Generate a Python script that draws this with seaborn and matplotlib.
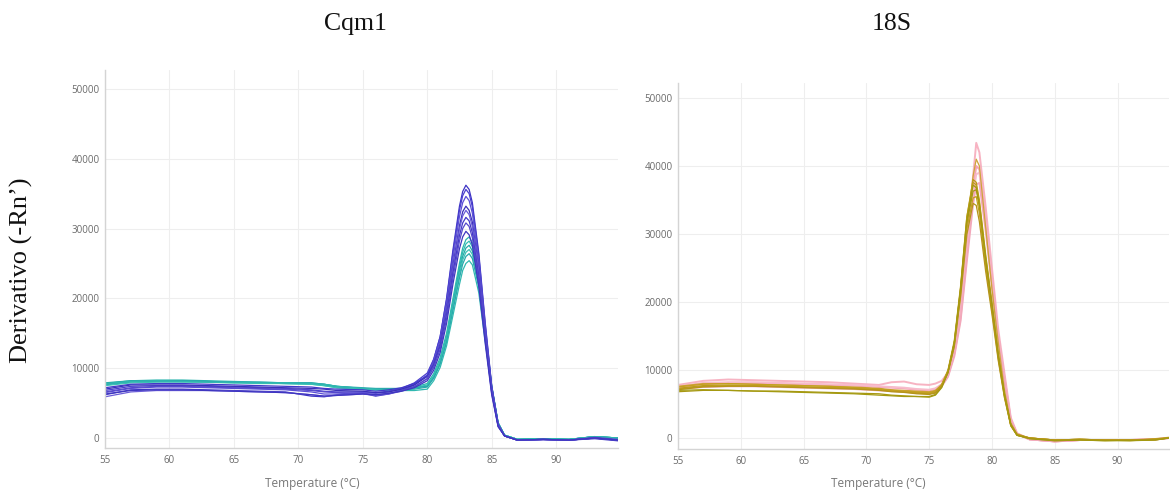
import matplotlib
matplotlib.use("Agg")
import matplotlib.pyplot as plt
import seaborn as sns

# ---------------- data ----------------
# Cqm1 panel
cqm1_temp = [55, 57, 59, 61, 63, 65, 67, 69, 71, 72, 73, 75, 76, 77, 78, 79,
             80, 80.5, 81, 81.5, 82, 82.5, 82.75, 83, 83.25, 83.5, 84, 84.5, 85, 85.5, 86,
             87, 89, 91, 93, 94.8]

cqm1_teal = [
    [7800, 8200, 8300, 8300, 8200, 8100, 8000, 7900, 7900, 7700, 7400, 7100, 7000, 7000, 7100, 7300,
     7800, 9200, 11500, 15000, 20000, 25000, 27200, 28400, 28800, 28000, 23500, 15500, 7500, 2200, 400,
     -200, -100, -200, 200, 0],
    [7600, 8000, 8100, 8100, 8000, 7900, 7900, 7800, 7700, 7500, 7200, 7000, 6900, 6900, 7000, 7200,
     7600, 8900, 11100, 14600, 19500, 24500, 26600, 27800, 28200, 27400, 23000, 15200, 7400, 2200, 400,
     -200, -100, -200, 200, 0],
    [7900, 8200, 8200, 8200, 8100, 8000, 7900, 7800, 7800, 7600, 7300, 7000, 6900, 6900, 6900, 7000,
     7300, 8600, 10700, 14100, 19000, 23900, 26000, 27200, 27600, 26800, 22500, 14900, 7300, 2100, 400,
     -200, -100, -200, 200, 0],
    [7500, 7900, 8000, 8000, 8000, 7900, 7800, 7800, 7700, 7500, 7200, 7000, 6900, 6900, 7000, 7100,
     7500, 8700, 10800, 14000, 18700, 23400, 25500, 26600, 27000, 26300, 22000, 14600, 7200, 2100, 400,
     -200, -100, -200, 200, 0],
    [7700, 8100, 8200, 8200, 8100, 8000, 8000, 7900, 7900, 7700, 7400, 7200, 7100, 7100, 7100, 7200,
     7400, 8600, 10600, 13700, 18300, 22900, 24900, 26000, 26400, 25700, 21600, 14300, 7100, 2100, 400,
     -200, -100, -200, 200, 0],
    [7800, 8100, 8200, 8100, 8000, 8000, 7900, 7900, 7800, 7700, 7400, 7100, 7000, 6900, 6800, 6800,
     7000, 8200, 10100, 13200, 17600, 22000, 24000, 25000, 25400, 24800, 20800, 13800, 6900, 2000, 400,
     -200, -100, -200, 200, 0],
]

cqm1_purple = [
    [6200, 6900, 7000, 7000, 6900, 6800, 6700, 6600, 6000, 5900, 6200, 6400, 6000, 6300, 6800, 7600,
     9000, 11200, 14500, 20000, 27000, 33200, 35300, 36200, 35600, 33700, 26500, 16500, 7500, 2000, 300,
     -300, -200, -300, -100, -400],
    [6800, 7400, 7500, 7500, 7400, 7300, 7200, 7100, 6900, 6700, 6600, 6600, 6500, 6700, 7100, 7900,
     9300, 11300, 14500, 19800, 26600, 32600, 34700, 35600, 35000, 33100, 26100, 16200, 7400, 2000, 300,
     -300, -250, -300, 0, -300],
    [6500, 7100, 7300, 7300, 7200, 7100, 7000, 6900, 6600, 6300, 6300, 6500, 6400, 6600, 7000, 7700,
     9000, 11000, 14000, 19200, 25800, 31700, 33700, 34600, 34000, 32200, 25300, 15800, 7200, 1900, 300,
     -300, -200, -300, 100, -200],
    [7000, 7600, 7600, 7600, 7500, 7400, 7300, 7200, 7100, 7000, 6800, 6700, 6500, 6600, 7000, 7600,
     8800, 10600, 13500, 18400, 24800, 30400, 32400, 33200, 32600, 30900, 24300, 15200, 6900, 1800, 300,
     -300, -200, -300, 0, -300],
    [5900, 6600, 6800, 6800, 6800, 6700, 6600, 6500, 6200, 6000, 6100, 6300, 6100, 6300, 6700, 7300,
     8500, 10300, 13200, 18000, 24300, 29900, 31800, 32600, 32000, 30300, 23900, 14900, 6800, 1800, 300,
     -300, -200, -300, 0, -300],
    [7200, 7700, 7800, 7800, 7700, 7600, 7500, 7400, 7300, 7100, 7000, 6900, 6700, 6900, 7200, 7800,
     8900, 10500, 13200, 17700, 23700, 29000, 30800, 31600, 31100, 29400, 23100, 14400, 6600, 1700, 300,
     -300, -200, -300, 0, -300],
    [6600, 7200, 7400, 7400, 7300, 7200, 7100, 7000, 6800, 6600, 6500, 6400, 6200, 6400, 6800, 7400,
     8500, 10100, 12700, 17100, 23000, 28200, 30000, 30800, 30300, 28700, 22500, 14100, 6400, 1700, 300,
     -300, -200, -300, 0, -300],
    [6300, 6800, 6900, 6900, 6800, 6700, 6600, 6500, 6200, 6000, 6100, 6300, 6200, 6400, 6700, 7200,
     8200, 9700, 12200, 16400, 22100, 27100, 28800, 29600, 29100, 27600, 21700, 13500, 6200, 1600, 300,
     -300, -200, -300, 0, -300],
]

# 18S panel
s18_temp = [55, 57, 59, 61, 63, 65, 67, 69, 71, 72, 73, 74, 75, 75.5,
            76, 76.5, 77, 77.5, 78, 78.5, 78.75, 79, 79.5, 80, 80.5, 81, 81.5, 82,
            83, 85, 87, 89, 91, 93, 94.1]

s18_pink = [
    [7800, 8400, 8600, 8500, 8400, 8300, 8200, 8000, 7800, 8200, 8300, 7900, 7800, 8000,
     8400, 9600, 12800, 18500, 28500, 38500, 43400, 42000, 34000, 25000, 16000, 9500, 3000, 700,
     -200, -500, -300, -300, -300, -200, 0],
    [7400, 7900, 8100, 8100, 8000, 7900, 7800, 7700, 7500, 7400, 7300, 7100, 7000, 7200,
     7800, 9200, 12400, 18000, 27500, 36500, 40000, 39500, 32000, 23500, 15000, 8800, 2700, 600,
     -200, -500, -300, -300, -300, -200, 0],
    [7600, 8100, 8200, 8200, 8100, 8000, 7900, 7800, 7600, 7500, 7400, 7200, 7100, 7300,
     7900, 9300, 12300, 17600, 26800, 35600, 38800, 39000, 31500, 23000, 14700, 8600, 2600, 600,
     -200, -500, -300, -300, -300, -200, 0],
    [7200, 7500, 7600, 7600, 7500, 7400, 7300, 7200, 7000, 6900, 6800, 6600, 6600, 6900,
     7600, 9000, 12000, 17200, 26000, 34400, 37300, 37500, 30500, 22300, 14300, 8300, 2500, 600,
     -200, -500, -300, -300, -300, -200, 0],
]

s18_gold = [
    [7600, 8000, 8000, 7900, 7800, 7700, 7600, 7500, 7300, 7100, 7000, 6900, 6800, 7000,
     7800, 9600, 13500, 21000, 31000, 38500, 41000, 40000, 31000, 22000, 14000, 7000, 2200, 600,
     0, -300, -200, -300, -300, -100, 100],
    [7300, 7700, 7800, 7700, 7600, 7500, 7400, 7300, 7100, 6900, 6800, 6600, 6500, 6700,
     7700, 9800, 14000, 22000, 32500, 38000, 37600, 35000, 27000, 20000, 12500, 6500, 2000, 500,
     0, -300, -200, -300, -400, -200, 0],
    [7200, 7600, 7700, 7700, 7600, 7500, 7400, 7400, 7200, 7000, 6800, 6700, 6600, 6800,
     7800, 10000, 14300, 22300, 32500, 37600, 37200, 34600, 26600, 19700, 12300, 6400, 2000, 500,
     0, -300, -200, -300, -300, -200, 0],
    [6800, 7000, 7000, 6900, 6900, 6800, 6700, 6600, 6500, 6300, 6200, 6100, 6100, 6400,
     7500, 9700, 13900, 21700, 31500, 36300, 36500, 34000, 26000, 19200, 12000, 6200, 1900, 400,
     -100, -400, -300, -400, -300, -300, 0],
    [7500, 7900, 8000, 7900, 7800, 7700, 7600, 7400, 7200, 7000, 6900, 6800, 6700, 6900,
     7900, 9900, 13800, 21300, 30800, 35300, 35500, 33000, 25300, 18700, 11700, 6000, 1800, 400,
     0, -300, -200, -300, -300, -200, 0],
    [7100, 7500, 7600, 7600, 7500, 7400, 7300, 7200, 7000, 6800, 6700, 6500, 6400, 6600,
     7600, 9600, 13400, 20700, 29900, 34500, 34200, 31800, 24500, 18200, 11400, 5900, 1800, 400,
     0, -300, -200, -300, -300, -200, 0],
    [7000, 7100, 7000, 6900, 6800, 6700, 6600, 6500, 6300, 6200, 6100, 6100, 6000, 6300,
     7400, 9700, 14000, 21900, 32000, 37200, 36800, 34200, 26300, 19500, 12200, 6300, 1900, 400,
     -100, -400, -300, -400, -400, -300, 0],
]

panel_titles = ["Cqm1", "18S"]
x_label = "Temperature (°C)"
y_label = "Derivativo (-Rn\u2019)"
x_ticks = [55, 60, 65, 70, 75, 80, 85, 90]
y_ticks = [0, 10000, 20000, 30000, 40000, 50000]

# ---------------- styling ----------------
teal_colors = ["#2ab5ad", "#33bdb2", "#25a9a8", "#3cc2b5", "#2aa8ac", "#30b8b0"]
purple_colors = ["#3d33c4", "#4a3fcf", "#5b4fd6", "#3a30b8", "#6a5cd8", "#4338c8", "#5548cc", "#3f36c0"]
pink_colors = ["#f7b3c2", "#f4a3b6", "#f7bccb", "#f2a8ba"]
gold_colors = ["#cfa33a", "#b89c14", "#bf9e1c", "#a89812", "#c4a020", "#b5941a", "#a39a10"]

sns.set_theme(style="whitegrid")
plt.rcParams["font.family"] = ["Open Sans", "DejaVu Sans"]

fig = plt.figure(figsize=(11.7, 4.93), dpi=100)
W, H = 1170, 493


def axes_px(x0, y0, x1, y1):
    return fig.add_axes([x0 / W, 1 - y1 / H, (x1 - x0) / W, (y1 - y0) / H])


ax1 = axes_px(105, 70, 618, 448)
ax2 = axes_px(678, 83, 1169, 449)

for c, vals in zip(teal_colors, cqm1_teal):
    sns.lineplot(x=cqm1_temp, y=vals, ax=ax1, color=c, linewidth=0.9, legend=False)
for c, vals in zip(purple_colors, cqm1_purple):
    sns.lineplot(x=cqm1_temp, y=vals, ax=ax1, color=c, linewidth=0.9, legend=False)

for c, vals in zip(pink_colors, s18_pink):
    sns.lineplot(x=s18_temp, y=vals, ax=ax2, color=c, linewidth=1.4, legend=False)
for c, vals in zip(gold_colors, s18_gold):
    sns.lineplot(x=s18_temp, y=vals, ax=ax2, color=c, linewidth=0.9, legend=False)

ax1.set_xlim(55, 94.8)
ax1.set_ylim(-1430, 52700)
ax2.set_xlim(55, 94.1)
ax2.set_ylim(-1620, 52200)

for ax in (ax1, ax2):
    ax.set_facecolor("white")
    ax.set_xticks(x_ticks)
    ax.set_yticks(y_ticks)
    ax.set_xticklabels([str(t) for t in x_ticks])
    ax.set_yticklabels([str(t) for t in y_ticks])
    ax.grid(True, color="#eeeeee", linewidth=0.8)
    ax.tick_params(axis="both", length=0, labelsize=7, labelcolor="#6a6a6a")
    ax.tick_params(axis="x", pad=5)
    ax.tick_params(axis="y", pad=4)
    for s in ("top", "right"):
        ax.spines[s].set_visible(False)
    for s in ("left", "bottom"):
        ax.spines[s].set_visible(True)
        ax.spines[s].set_color("#d4d4d4")
        ax.spines[s].set_linewidth(1.0)
    ax.set_xlabel("")
    ax.set_ylabel("")

serif = ["Liberation Serif", "DejaVu Serif"]
fig.text(355 / W, 1 - 24 / H, panel_titles[0], ha="center", va="center",
         fontsize=18.5, family=serif, color="#111111")
fig.text(892 / W, 1 - 24 / H, panel_titles[1], ha="center", va="center",
         fontsize=18.5, family=serif, color="#111111")
fig.text(21 / W, 1 - 270 / H, y_label, ha="center", va="center", rotation=90,
         fontsize=19, family=serif, color="#111111")
fig.text(312 / W, 1 - 484 / H, x_label, ha="center", va="center",
         fontsize=8.5, color="#777777")
fig.text(878 / W, 1 - 484 / H, x_label, ha="center", va="center",
         fontsize=8.5, color="#777777")

fig.savefig("out.png", dpi=100)
